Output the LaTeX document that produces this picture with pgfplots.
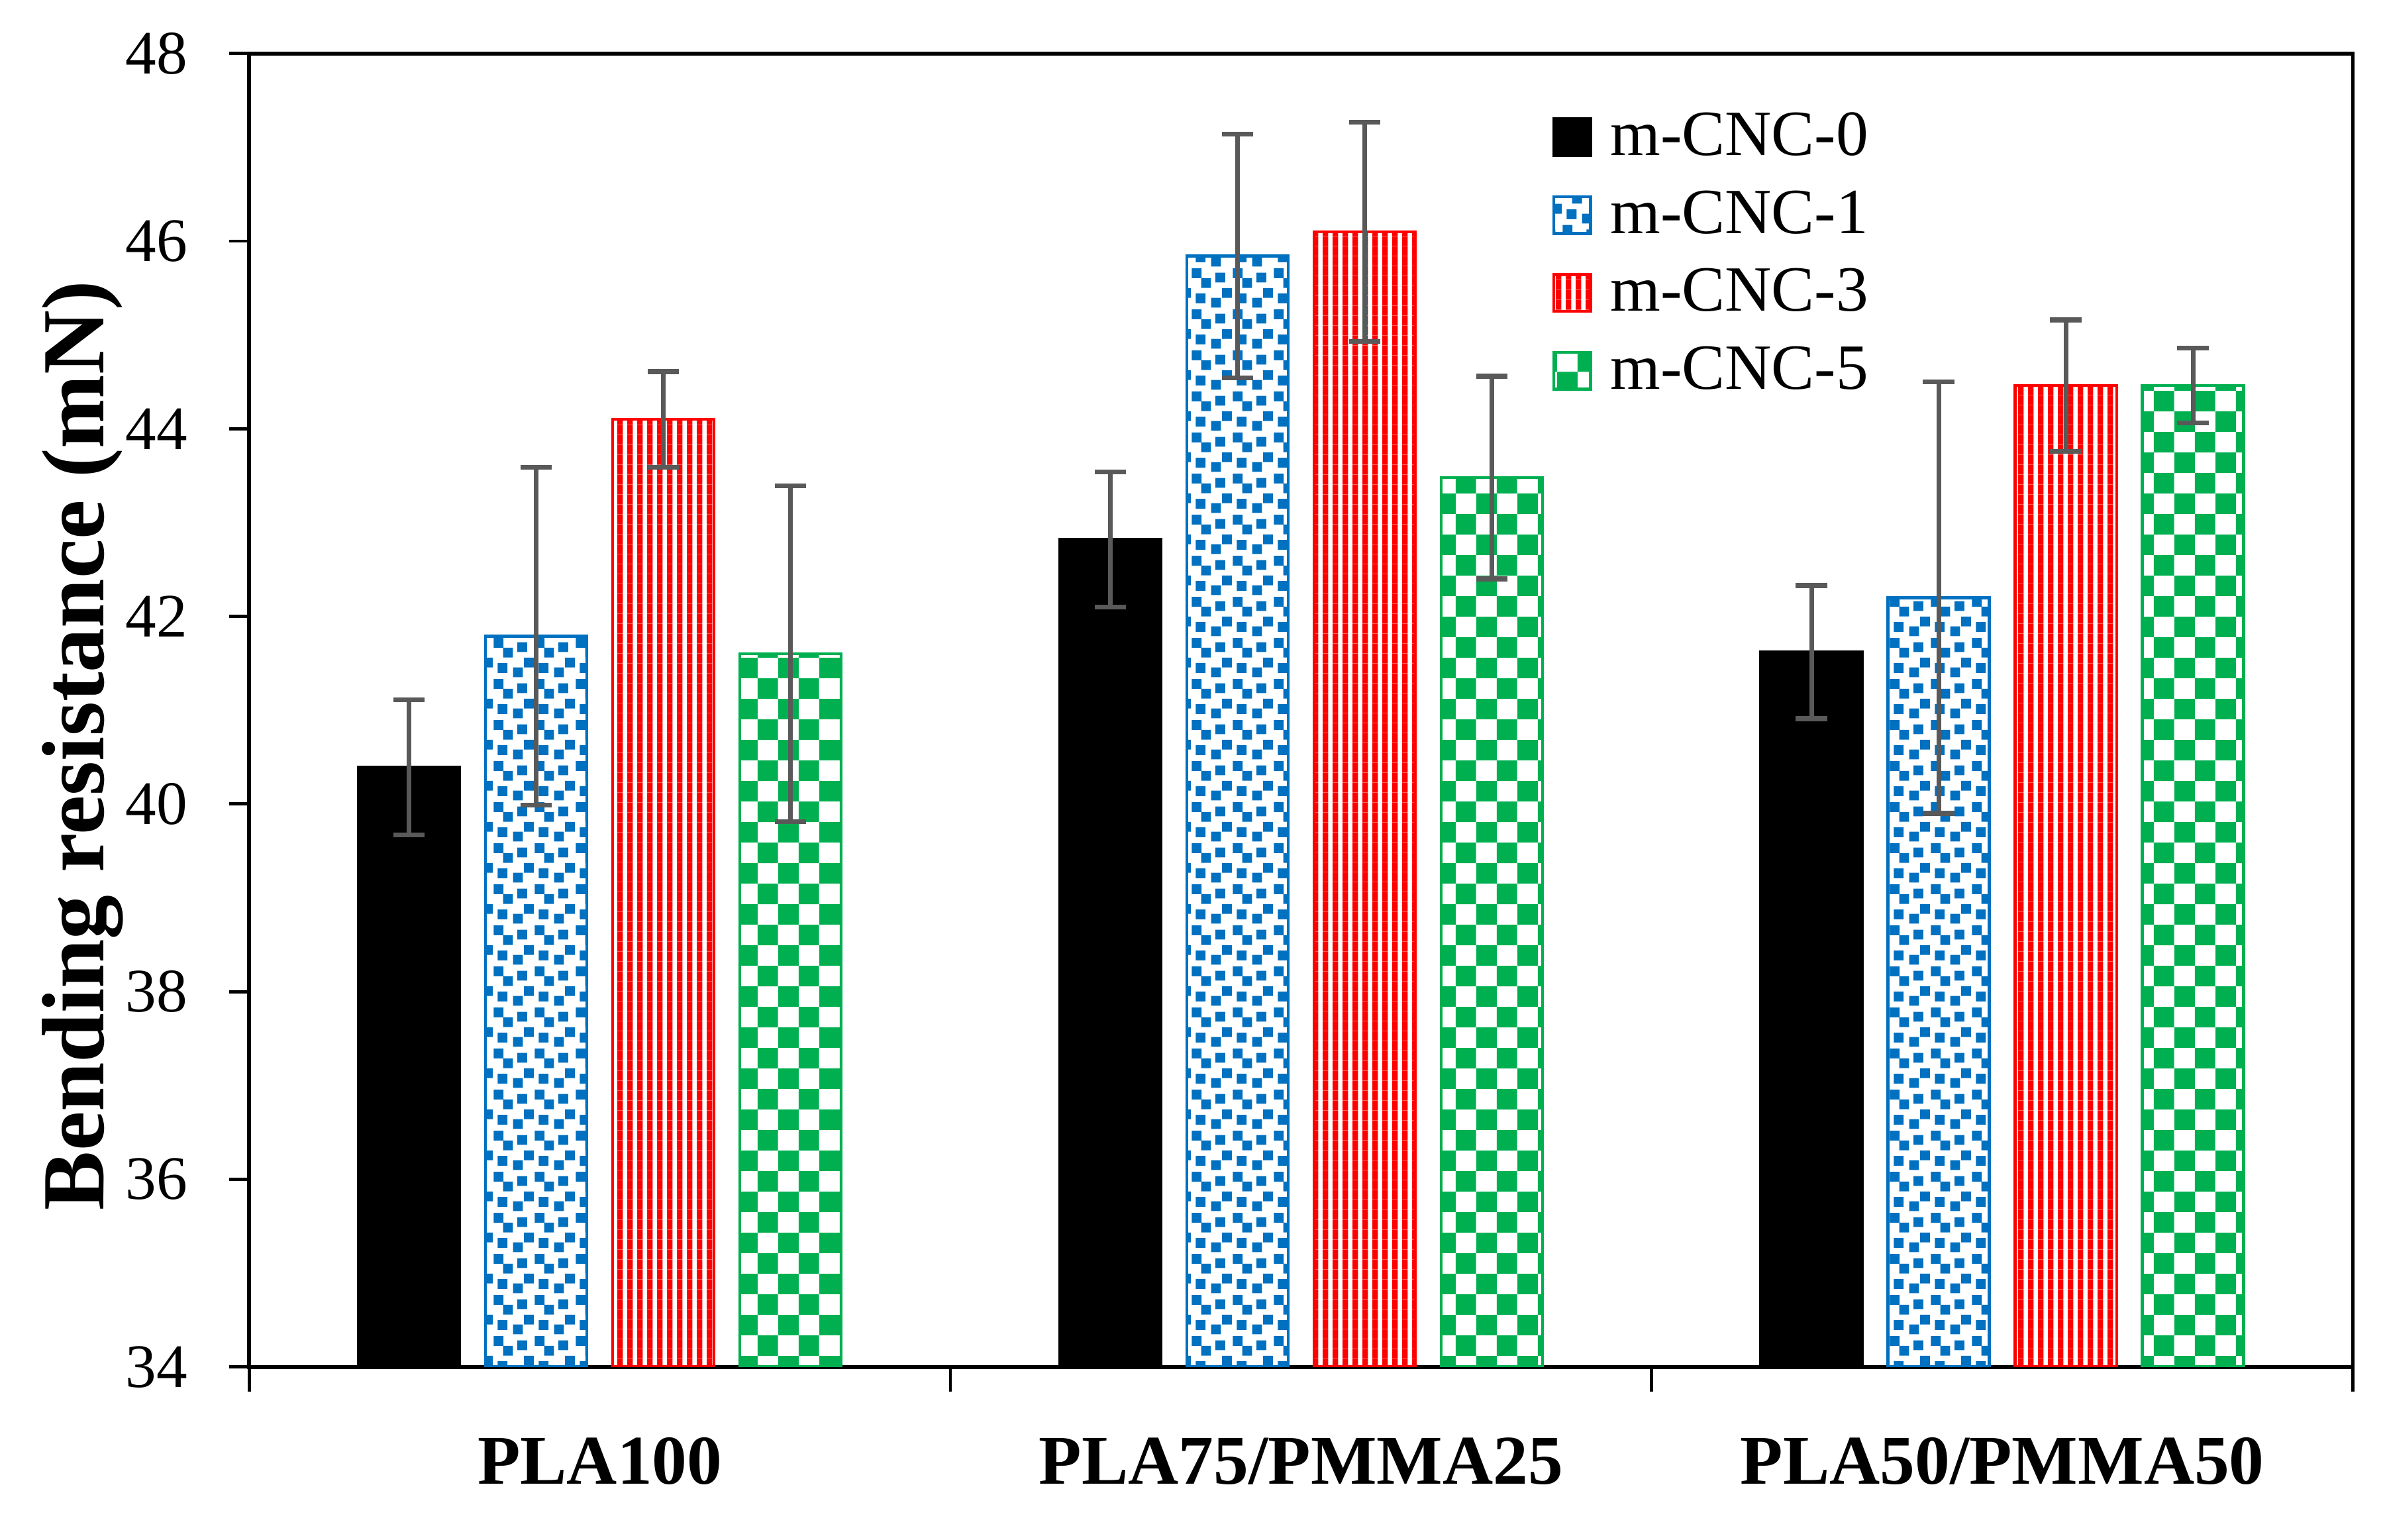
\documentclass[border=0pt]{standalone}
\usepackage{fontspec}
\setmainfont{Liberation Serif}
\usepackage{pgfplots}
\pgfplotsset{compat=1.18}
\usetikzlibrary{patterns.meta}

\definecolor{cncblue}{HTML}{0070C0}
\definecolor{cncred}{HTML}{FF0000}
\definecolor{cncgreen}{HTML}{00B050}
\definecolor{errgray}{HTML}{595959}

% red bars: vertical stripes
\pgfdeclarepattern{
  name=vstripes, type=uncolored,
  bottom left={\pgfpoint{0mm}{0mm}}, top right={\pgfpoint{0.66mm}{0.66mm}},
  tile size={\pgfpoint{0.66mm}{0.66mm}},
  code={\pgfpathrectangle{\pgfpoint{0.14mm}{0mm}}{\pgfpoint{0.38mm}{0.66mm}}\pgfusepath{fill}}
}
% green bars: checkerboard
\pgfdeclarepattern{
  name=checker, type=uncolored,
  bottom left={\pgfpoint{0mm}{0mm}}, top right={\pgfpoint{2.68mm}{2.68mm}},
  tile size={\pgfpoint{2.68mm}{2.68mm}},
  code={\pgfpathrectangle{\pgfpointorigin}{\pgfpoint{1.34mm}{1.34mm}}
        \pgfpathrectangle{\pgfpoint{1.34mm}{1.34mm}}{\pgfpoint{1.34mm}{1.34mm}}
        \pgfusepath{fill}}
}
% blue bars: confetti of small squares
\pgfdeclarepattern{
  name=confetti, type=uncolored,
  bottom left={\pgfpoint{0mm}{0mm}}, top right={\pgfpoint{2.69mm}{2.69mm}},
  tile size={\pgfpoint{2.69mm}{2.69mm}},
  code={\pgfpathrectangle{\pgfpoint{0.011mm}{1.986mm}}{\pgfpoint{0.65mm}{0.65mm}}
        \pgfpathrectangle{\pgfpoint{1.588mm}{1.695mm}}{\pgfpoint{0.65mm}{0.65mm}}
        \pgfpathrectangle{\pgfpoint{0.641mm}{1.332mm}}{\pgfpoint{0.65mm}{0.65mm}}
        \pgfpathrectangle{\pgfpoint{2.023mm}{0.676mm}}{\pgfpoint{0.65mm}{0.65mm}}
        \pgfpathrectangle{\pgfpoint{0.278mm}{0.313mm}}{\pgfpoint{0.65mm}{0.65mm}}
        \pgfpathrectangle{\pgfpoint{1.297mm}{0.022mm}}{\pgfpoint{0.65mm}{0.65mm}}
        \pgfusepath{fill}}
}

\pgfplotsset{
  eb/.style={error bars/.cd, y dir=both, y explicit,
    error bar style={errgray, line width=0.9pt},
    error mark options={errgray, line width=0.9pt, mark size=1.03mm, rotate=90}},
}

\begin{document}
\begin{tikzpicture}
\begin{axis}[
  name=ax,
  width=137.6mm, height=85.9mm, scale only axis,
  xmin=-0.5, xmax=2.5, ymin=34, ymax=48,
  ybar, bar width=0.1446,
  ytick={34,36,...,48},
  xtick={0,1,2},
  xticklabels={PLA100, PLA75/PMMA25, PLA50/PMMA50},
  minor xtick={-0.5,0.5,1.5,2.5},
  tick align=outside, tick pos=left,
  major tick length=1.3mm, minor tick length=1.6mm,
  major x tick style={draw=none},
  tick style={black, line width=0.6pt},
  axis line style={black, line width=0.7pt},
  /pgf/number format/assume math mode=true,
  yticklabel style={font=\fontsize{11.5}{13}\selectfont, xshift=-1.5mm},
  xticklabel style={font=\bfseries\fontsize{13}{15}\selectfont, yshift=-2.1mm},
  ylabel={Bending resistance (mN)},
  ylabel style={font=\bfseries\fontsize{16.5}{18}\selectfont,
    at={(axis description cs:-0.0988,0.473)}, anchor=north, inner sep=0pt},
  legend style={at={(0.619,0.957)}, anchor=north west, draw=none, fill=none,
    inner sep=0pt, column sep=1.2mm, row sep=2.1mm,
    font=\fontsize{12}{14}\selectfont,
    nodes={inner sep=0pt, text height=2.9mm, text depth=0pt}},
  legend cell align=left,
  legend image code/.code={\draw[#1] (0mm,-1.45mm) rectangle (2.4mm,0.95mm);},
]
\addplot[bar shift=-0.272, fill=black, draw=black, line width=0.55pt, eb]
  coordinates {(0,40.39) +- (0,0.72) (1,42.82) +- (0,0.72) (2,41.62) +- (0,0.71)};
\addplot[bar shift=-0.0907, pattern=confetti, pattern color=cncblue, draw=cncblue, line width=0.55pt, eb]
  coordinates {(0,41.79) +- (0,1.80) (1,45.84) +- (0,1.30) (2,42.20) +- (0,2.30)};
\addplot[bar shift=0.0907, pattern=vstripes, pattern color=cncred, draw=cncred, line width=0.55pt, eb]
  coordinates {(0,44.10) +- (0,0.51) (1,46.10) +- (0,1.17) (2,44.46) +- (0,0.70)};
\addplot[bar shift=0.272, pattern=checker, pattern color=cncgreen, draw=cncgreen, line width=0.55pt, eb]
  coordinates {(0,41.60) +- (0,1.79) (1,43.48) +- (0,1.08) (2,44.46) +- (0,0.40)};
\legend{m-CNC-0, m-CNC-1, m-CNC-3, m-CNC-5}
\end{axis}
\pgfresetboundingbox
\path ([xshift=-16.3mm, yshift=-11.3mm]ax.south west) rectangle ([xshift=2.1mm, yshift=3.5mm]ax.north east);
\end{tikzpicture}
\end{document}
